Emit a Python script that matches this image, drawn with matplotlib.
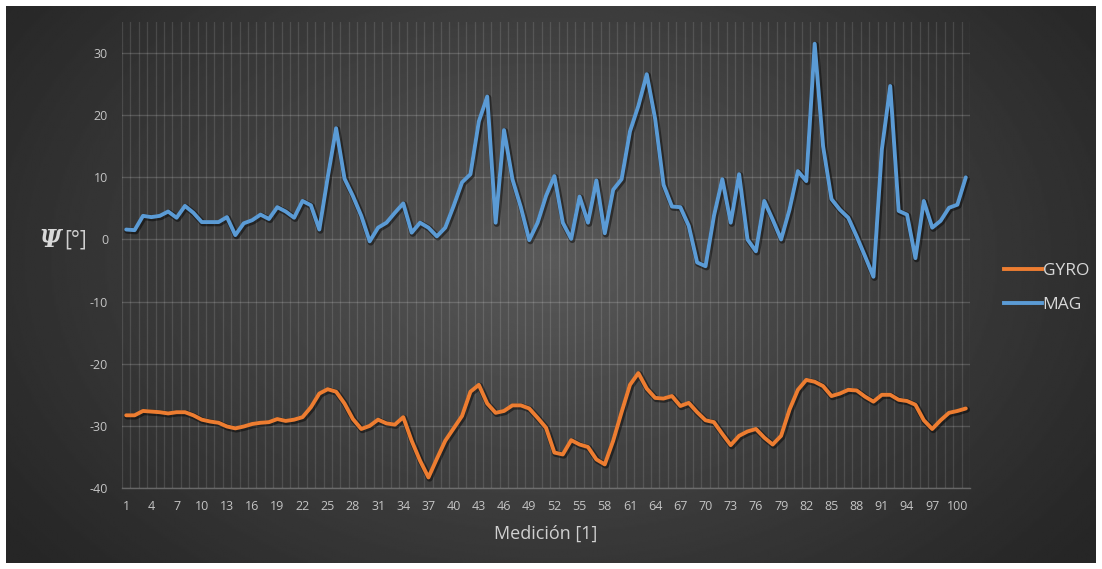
import numpy as np
import matplotlib
matplotlib.use("Agg")
import matplotlib.pyplot as plt
from matplotlib import patheffects as pe
from matplotlib.lines import Line2D

# Measurements 1..101
medicion = list(range(1, 102))

gyro = [
    -28.3, -28.3, -27.6, -27.7, -27.8, -28.0, -27.8, -27.8, -28.3, -29.0,
    -29.3, -29.5, -30.1, -30.4, -30.1, -29.7, -29.5, -29.4, -28.9, -29.2,
    -29.0, -28.6, -27.0, -24.8, -24.1, -24.5, -26.4, -28.9, -30.5, -30.0,
    -29.0, -29.6, -29.8, -28.6, -32.4, -35.6, -38.3, -35.3, -32.4, -30.4,
    -28.4, -24.5, -23.4, -26.4, -27.9, -27.6, -26.7, -26.7, -27.2, -28.7,
    -30.3, -34.3, -34.6, -32.3, -33.0, -33.4, -35.4, -36.2, -32.4, -27.8,
    -23.4, -21.5, -24.0, -25.5, -25.6, -25.2, -26.8, -26.3, -27.8, -29.1,
    -29.4, -31.3, -33.1, -31.6, -30.9, -30.5, -31.9, -33.0, -31.6, -27.4,
    -24.2, -22.6, -22.9, -23.6, -25.2, -24.8, -24.2, -24.3, -25.3, -26.1,
    -25.0, -25.0, -25.8, -26.0, -26.6, -29.1, -30.5, -29.1, -27.9, -27.6,
    -27.2,
]

mag = [
    1.6, 1.5, 3.8, 3.6, 3.8, 4.5, 3.5, 5.4, 4.3, 2.8,
    2.8, 2.8, 3.6, 0.7, 2.6, 3.1, 4.0, 3.3, 5.2, 4.5,
    3.5, 6.2, 5.5, 1.6, 10.0, 17.9, 9.8, 7.0, 3.8, -0.3,
    1.9, 2.7, 4.3, 5.8, 1.1, 2.7, 1.9, 0.5, 1.9, 5.4,
    9.2, 10.5, 19.0, 23.0, 2.7, 17.6, 9.7, 5.2, -0.1, 2.7,
    7.0, 10.2, 2.7, 0.1, 6.9, 2.7, 9.5, 1.0, 8.0, 9.7,
    17.4, 21.5, 26.6, 19.4, 8.8, 5.3, 5.2, 2.2, -3.7, -4.3,
    3.8, 9.7, 2.7, 10.5, 0.0, -1.9, 6.2, 3.2, 0.0, 4.8,
    11.0, 9.4, 31.5, 15.0, 6.5, 4.8, 3.5, 0.5, -2.7, -6.0,
    14.5, 24.7, 4.6, 4.0, -3.0, 6.2, 1.9, 3.0, 5.1, 5.6,
    10.0,
]

x_ticks = list(range(1, 101, 3))
y_ticks = list(range(-40, 31, 10))

series_names = ["GYRO", "MAG"]
series_colors = ["#ED7D31", "#5B9BD5"]

W, H = 1102, 569
fig = plt.figure(figsize=(W / 100, H / 100), dpi=100, facecolor="white")

# Dark radial gradient behind the chart
bg = fig.add_axes([6 / W, 6 / H, 1090 / W, 557 / H])
ny, nx = 300, 600
yy, xx = np.mgrid[0:1:ny * 1j, 0:1:nx * 1j]
r = np.sqrt(((xx - 0.5) / 0.62) ** 2 + ((yy - 0.55) / 0.85) ** 2)
t = np.clip(1 - r, 0, 1)
val = 0.15 + 0.2 * t ** 1.1
bg.imshow(val, cmap="gray", vmin=0, vmax=1, extent=[0, 1, 0, 1],
          origin="lower", aspect="auto", interpolation="bilinear")
bg.axis("off")

ax = fig.add_axes([122 / W, 1 - 488 / H, (970 - 122) / W, (488 - 22) / H])
ax.set_facecolor("none")
ax.set_xlim(0.5, 101.5)
ax.set_ylim(-40, 35)

# Category gridlines between measurements
ax.set_xticks(np.arange(0.5, 101.6, 1.0), minor=True)
ax.set_xticks(x_ticks)
ax.set_xticklabels([str(v) for v in x_ticks])
ax.set_yticks(y_ticks)
ax.set_yticklabels([str(v) for v in y_ticks])
ax.grid(which="minor", axis="x", color="white", alpha=0.12, lw=0.9)
ax.grid(which="major", axis="x", visible=False)
ax.grid(which="major", axis="y", color="white", alpha=0.17, lw=1.0)
ax.tick_params(which="both", length=0)
ax.tick_params(axis="x", pad=9, labelsize=9, labelcolor="#c4c4c4")
ax.tick_params(axis="y", pad=10, labelsize=9, labelcolor="#c4c4c4")
for lab in ax.get_xticklabels() + ax.get_yticklabels():
    lab.set_family("Open Sans")
for s in ["top", "right", "left"]:
    ax.spines[s].set_visible(False)
ax.spines["bottom"].set_color((0.62, 0.62, 0.62))
ax.spines["bottom"].set_alpha(0.5)
ax.spines["bottom"].set_linewidth(1.0)

shadow = [pe.SimpleLineShadow(offset=(0.8, -0.8), shadow_color="black", alpha=0.45, linewidth=4.5),
          pe.Normal()]
for name, vals, col in zip(series_names, [gyro, mag], series_colors):
    ax.plot(medicion, vals, color=col, lw=2.8, solid_joinstyle="round",
            solid_capstyle="round", path_effects=shadow, label=name)

ax.set_xlabel("Medición [1]", fontsize=13, color="#d0d0d0", family="Open Sans", labelpad=8)

fig.text(39 / W, 1 - 240 / H, "Ψ", fontsize=17, fontweight="bold", fontstyle="italic",
         family="DejaVu Serif", color="#d8d8d8", ha="left", va="center")
fig.text(64 / W, 1 - 240 / H, "[°]", fontsize=15, family="Open Sans",
         color="#d0d0d0", ha="left", va="center")

handles = [Line2D([0], [0], color=c, lw=2.8) for c in series_colors]
leg = fig.legend(handles, series_names, loc="center left",
                 bbox_to_anchor=(988 / W, 1 - 288 / H), frameon=False,
                 handlelength=2.2, handletextpad=0.05, labelspacing=1.0,
                 prop={"family": "Open Sans", "size": 12.5})
for txt in leg.get_texts():
    txt.set_color("#d8d8d8")

fig.savefig("out.png", dpi=100, facecolor="white")
